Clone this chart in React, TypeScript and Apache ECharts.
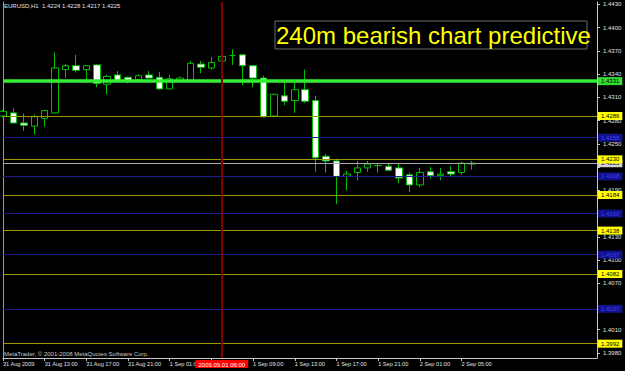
import React, { useEffect, useRef } from "react";
import * as echarts from "echarts";

const categories = [
  "31 Aug 09:00", "31 Aug 10:00", "31 Aug 11:00", "31 Aug 12:00", "31 Aug 13:00", "31 Aug 14:00",
  "31 Aug 15:00", "31 Aug 16:00", "31 Aug 17:00", "31 Aug 18:00", "31 Aug 19:00", "31 Aug 20:00",
  "31 Aug 21:00", "31 Aug 22:00", "31 Aug 23:00",
  "1 Sep 00:00", "1 Sep 01:00", "1 Sep 02:00", "1 Sep 03:00", "1 Sep 04:00", "1 Sep 05:00",
  "1 Sep 06:00", "1 Sep 07:00", "1 Sep 08:00", "1 Sep 09:00", "1 Sep 10:00", "1 Sep 11:00",
  "1 Sep 12:00", "1 Sep 13:00", "1 Sep 14:00", "1 Sep 15:00", "1 Sep 16:00", "1 Sep 17:00",
  "1 Sep 18:00", "1 Sep 19:00", "1 Sep 20:00", "1 Sep 21:00", "1 Sep 22:00", "1 Sep 23:00",
  "2 Sep 00:00", "2 Sep 01:00", "2 Sep 02:00", "2 Sep 03:00", "2 Sep 04:00", "2 Sep 05:00",
  "2 Sep 06:00", "2 Sep 07:00", "2 Sep 08:00", "2 Sep 09:00", "2 Sep 10:00", "2 Sep 11:00",
  "2 Sep 12:00", "2 Sep 13:00", "2 Sep 14:00", "2 Sep 15:00", "2 Sep 16:00", "2 Sep 17:00",
  "2 Sep 18:00",
];

const opens = [
  1.4286, 1.4290, 1.4277, 1.4273, 1.4283, 1.4290, 1.4346, 1.4351, 1.4346, 1.4352,
  1.4327, 1.4339, 1.4336, 1.4333, 1.4339, 1.4336, 1.4321, 1.4332, 1.4332, 1.4353,
  1.4348, 1.4357, 1.4364, 1.4365, 1.4351, 1.4335, 1.4286, 1.4312, 1.4306, 1.4320,
  1.4306, 1.4234, 1.4228, 1.4208, 1.4213, 1.4219, 1.4222, 1.4221, 1.4219, 1.4210,
  1.4197, 1.4214, 1.4209, 1.4214, 1.4213, 1.4224,
];
const closes = [
  1.4292, 1.4277, 1.4274, 1.4285, 1.4293, 1.4348, 1.4351, 1.4345, 1.4351, 1.4328,
  1.4337, 1.4332, 1.4332, 1.4338, 1.4335, 1.4321, 1.4334, 1.4335, 1.4354, 1.4349,
  1.4355, 1.4363, 1.4364, 1.4351, 1.4335, 1.4285, 1.4314, 1.4305, 1.4320, 1.4305,
  1.4232, 1.4228, 1.4208, 1.4211, 1.4219, 1.4224, 1.4222, 1.4216, 1.4206, 1.4197,
  1.4213, 1.4209, 1.4211, 1.4211, 1.4225, 1.4225,
];
const lows = [
  1.4284, 1.4277, 1.4267, 1.4262, 1.4272, 1.4289, 1.4335, 1.4342, 1.4329, 1.4323,
  1.4314, 1.4331, 1.4328, 1.4332, 1.4334, 1.4320, 1.4320, 1.4331, 1.4331, 1.4341,
  1.4346, 1.4356, 1.4352, 1.4326, 1.4323, 1.4284, 1.4284, 1.4300, 1.4290, 1.4303,
  1.4214, 1.4213, 1.4172, 1.4190, 1.4203, 1.4214, 1.4213, 1.4215, 1.4199, 1.4188,
  1.4194, 1.4205, 1.4203, 1.4207, 1.4210, 1.4217,
];
const highs = [
  1.4294, 1.4296, 1.4289, 1.4288, 1.4294, 1.4368, 1.4353, 1.4365, 1.4352, 1.4353,
  1.4339, 1.4344, 1.4337, 1.4340, 1.4344, 1.4343, 1.4339, 1.4337, 1.4357, 1.4357,
  1.4362, 1.4364, 1.4372, 1.4366, 1.4352, 1.4338, 1.4315, 1.4329, 1.4329, 1.4346,
  1.4312, 1.4237, 1.4231, 1.4215, 1.4228, 1.4228, 1.4225, 1.4224, 1.4224, 1.4213,
  1.4219, 1.4220, 1.4219, 1.4221, 1.4227, 1.4228,
];

// all tick marks on the price scale
const yTicks = [
  1.398, 1.401, 1.404, 1.407, 1.41, 1.413, 1.416, 1.419, 1.422, 1.425, 1.428, 1.431,
  1.434, 1.437, 1.44, 1.443,
];
// tick labels not hidden beneath the level boxes
const yTickLabels = [
  1.398, 1.401, 1.407, 1.41, 1.413, 1.419, 1.425, 1.428, 1.431,
  1.434, 1.437, 1.44, 1.443,
];
const yellowLevels = [1.4286, 1.423, 1.4184, 1.4138, 1.4082, 1.3992];
const blueLevels = [1.4258, 1.4208, 1.416, 1.4107, 1.4037];
const pivotLevel = 1.4331;
const bidPrice = 1.4225;
const separatorTime = "1 Sep 06:00";
const separatorLabel = "2009.09.01 06:00";
const firstLabel = "31 Aug 2009";
const headerText = "EURUSD,H1  1.4224 1.4228 1.4217 1.4225";
const titleText = "240m bearish chart predictive";
const copyrightText = "MetaTrader, \u00a9 2001-2008 MetaQuotes Software Corp.";

const Y_MIN = 1.39735;
const Y_MAX = 1.44332;

export default function App() {
  const ref = useRef<HTMLDivElement>(null);

  useEffect(() => {
    document.body.style.margin = "0";
    document.body.style.background = "#000";
    const chart = echarts.init(ref.current!, null, { renderer: "svg" });
    const font = "Liberation Sans, Arial, sans-serif";
    const data = opens.map((o, i) => [o, closes[i], lows[i], highs[i]]);
    // label at index 20 is hidden under the separator's date box in the reference
    const showIdx = (i: number) => i % 4 === 0 && i <= 44 && i !== 20;
    const tickIdx = (i: number) => i % 4 === 0 && i <= 44;

    const lvlLabel = (bg: string, fg: string) => ({
      show: true,
      position: "end",
      distance: 1,
      formatter: (p: any) => Number(p.value).toFixed(4),
      backgroundColor: bg,
      color: fg,
      fontSize: 6,
      fontFamily: font,
      padding: [1, 3, 0, 3],
      lineHeight: 7,
    });

    const markData: any[] = [
      ...blueLevels.map((v) => ({
        yAxis: v,
        lineStyle: { color: "#1e1e8c", width: 1, type: "solid" },
        label: lvlLabel("#12128c", "#4040f0"),
      })),
      {
        yAxis: bidPrice,
        lineStyle: { color: "#a8a8a8", width: 1, type: "solid" },
        label: lvlLabel("#d0d0d0", "#000"),
      },
      ...yellowLevels.map((v) => ({
        yAxis: v,
        lineStyle: { color: "#9a9a00", width: 1, type: "solid" },
        label: lvlLabel("#ffff00", "#000"),
      })),
      {
        yAxis: pivotLevel,
        lineStyle: { color: "#33ee33", width: 3.5, type: "solid" },
        label: lvlLabel("#33dd33", "#000"),
      },
      {
        xAxis: separatorTime,
        lineStyle: { color: "#800000", width: 2, type: "solid" },
        label: {
          show: true,
          position: "start",
          distance: 2,
          formatter: separatorLabel,
          backgroundColor: "#ff0000",
          color: "#ffffff",
          fontSize: 6,
          fontFamily: font,
          padding: [1, 3, 0, 3],
          lineHeight: 7,
        },
      },
    ];

    chart.setOption({
      animation: false,
      backgroundColor: "#000000",
      grid: { left: 2, right: 28, top: 2, bottom: 13, containLabel: false },
      xAxis: {
        type: "category",
        data: categories,
        boundaryGap: false,
        axisLine: { onZero: false, lineStyle: { color: "#c8c8c8", width: 1 } },
        axisTick: { show: true, interval: (i: number) => tickIdx(i), length: 3, lineStyle: { color: "#c8c8c8" } },
        axisLabel: {
          interval: (i: number) => showIdx(i),
          formatter: (v: string, i: number) => (i === 0 ? firstLabel : v),
          align: "left",
          color: "#e0e0e0",
          fontSize: 5.6,
          fontFamily: font,
          margin: 3,
        },
        splitLine: { show: false },
      },
      yAxis: [
        {
          type: "value",
          position: "right",
          min: Y_MIN,
          max: Y_MAX,
          splitLine: { show: false },
          axisLine: { show: true, lineStyle: { color: "#c8c8c8", width: 1 } },
          axisTick: { show: true, length: 3, customValues: yTicks, lineStyle: { color: "#c8c8c8" } },
          axisLabel: {
            customValues: yTickLabels,
            formatter: (v: number) => v.toFixed(4),
            color: "#e0e0e0",
            fontSize: 6,
            fontFamily: font,
            margin: 6,
          },
        },
        {
          type: "value",
          position: "left",
          min: Y_MIN,
          max: Y_MAX,
          splitLine: { show: false },
          axisLine: { show: true, lineStyle: { color: "#9a9a9a", width: 1 } },
          axisTick: { show: false },
          axisLabel: { show: false },
        },
      ],
      series: [
        {
          type: "candlestick",
          data,
          barWidth: 7,
          yAxisIndex: 0,
          itemStyle: {
            color: "#000000",
            color0: "#ffffff",
            borderColor: "#00c000",
            borderColor0: "#00c000",
            borderColorDoji: "#00c000",
            borderWidth: 1,
          },
          markLine: {
            silent: true,
            precision: 4,
            symbol: ["none", "none"],
            animation: false,
            data: markData,
          },
        },
      ],
      graphic: [
        {
          type: "text",
          left: 4,
          top: 3,
          z: 100,
          style: { text: headerText, fill: "#e0e0e0", fontSize: 6, fontFamily: font },
        },
        {
          type: "text",
          left: 4,
          top: 351,
          z: 100,
          style: { text: copyrightText, fill: "#c8c8c8", fontSize: 6, fontFamily: font },
        },
        {
          type: "rect",
          z: 100,
          shape: { x: 275, y: 21, width: 312, height: 28 },
          style: { fill: "none", stroke: "#6a6a6a", lineWidth: 1 },
        },
        {
          type: "text",
          z: 101,
          x: 276,
          y: 35,
          style: {
            text: titleText,
            fill: "#ffff00",
            fontSize: 24,
            fontFamily: font,
            verticalAlign: "middle",
            align: "left",
          },
        },
      ],
    });
    return () => chart.dispose();
  }, []);

  return <div ref={ref} style={{ width: 625, height: 371, background: "#000" }} />;
}
